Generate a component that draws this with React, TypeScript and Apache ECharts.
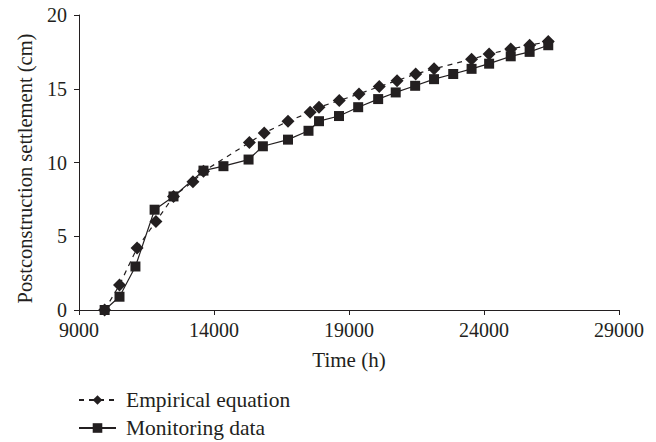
import React, { useEffect, useRef } from "react";
import * as echarts from "echarts";

const xTicks = [9000, 14000, 19000, 24000, 29000];
const yTicks = [0, 5, 10, 15, 20];

const empiricalX = [9950, 10500, 11150, 11850, 12500, 13220, 13610, 15310, 15860, 16740, 17560, 17890, 18640, 19370, 20120, 20780, 21470, 22150, 23540, 24190, 24990, 25690, 26380];
const empiricalY = [0, 1.7, 4.2, 6.0, 7.7, 8.7, 9.4, 11.35, 12.0, 12.8, 13.4, 13.75, 14.2, 14.65, 15.15, 15.55, 16.0, 16.35, 17.0, 17.35, 17.7, 17.95, 18.2];

const monitoringX = [9950, 10500, 11090, 11800, 12500, 13610, 14350, 15280, 15810, 16740, 17500, 17890, 18630, 19340, 20080, 20730, 21450, 22150, 22860, 23540, 24190, 24990, 25690, 26380];
const monitoringY = [0, 0.9, 2.95, 6.8, 7.7, 9.45, 9.75, 10.2, 11.1, 11.55, 12.15, 12.8, 13.15, 13.75, 14.3, 14.75, 15.2, 15.65, 16.0, 16.35, 16.7, 17.2, 17.5, 17.95];

const seriesNames = ["Empirical equation", "Monitoring data"];

const INK = "#231f20";
const FONT = "'Liberation Serif', 'Times New Roman', serif";

export default function App() {
  const ref = useRef<HTMLDivElement>(null);
  useEffect(() => {
    if (!ref.current) return;
    const chart = echarts.init(ref.current, undefined, { renderer: "svg" });
    const zip = (xs: number[], ys: number[]) => xs.map((x, i) => [x, ys[i]]);
    chart.setOption({
      animation: false,
      backgroundColor: "#ffffff",
      textStyle: { fontFamily: FONT, color: INK },
      grid: { left: 79, right: 37, top: 15, bottom: 132, containLabel: false },
      xAxis: {
        type: "value",
        min: xTicks[0],
        max: xTicks[xTicks.length - 1],
        interval: 1000,
        name: "Time (h)",
        nameLocation: "middle",
        nameGap: 39,
        nameTextStyle: { fontFamily: FONT, fontSize: 21, color: INK },
        axisLine: { show: true, onZero: false, lineStyle: { color: INK, width: 1 } },
        axisTick: { show: true, customValues: xTicks, length: 5, inside: false, lineStyle: { color: INK } },
        axisLabel: {
          customValues: xTicks,
          margin: 10,
          fontFamily: FONT,
          fontSize: 20,
          color: INK,
          formatter: (v: number) => String(v),
        },
        splitLine: { show: false },
      },
      yAxis: {
        type: "value",
        min: yTicks[0],
        max: yTicks[yTicks.length - 1],
        interval: 5,
        name: "Postconstruction settlement (cm)",
        nameLocation: "middle",
        nameGap: 44,
        nameTextStyle: { fontFamily: FONT, fontSize: 20.5, color: INK, padding: [0, 12, 0, 0] },
        axisLine: { show: true, lineStyle: { color: INK, width: 1 } },
        axisTick: { show: true, length: 5, inside: false, lineStyle: { color: INK } },
        axisLabel: { margin: 12, fontFamily: FONT, fontSize: 20, color: INK },
        splitLine: { show: false },
      },
      legend: {
        orient: "vertical",
        left: 78,
        top: 389,
        padding: 0,
        itemWidth: 37,
        itemHeight: 12,
        itemGap: 6,
        textStyle: { fontFamily: FONT, fontSize: 21.5, color: INK, lineHeight: 21, padding: [0, 0, 0, 5] },
        data: seriesNames,
      },
      series: [
        {
          name: seriesNames[0],
          type: "line",
          data: zip(empiricalX, empiricalY),
          symbol: "diamond",
          symbolSize: 13,
          itemStyle: { color: INK },
          lineStyle: { color: INK, width: 1.2, type: [5, 5] },
          z: 2,
        },
        {
          name: seriesNames[1],
          type: "line",
          data: zip(monitoringX, monitoringY),
          symbol: "rect",
          symbolSize: 10,
          itemStyle: { color: INK },
          lineStyle: { color: INK, width: 1.2 },
          z: 3,
        },
      ],
    });
    return () => chart.dispose();
  }, []);
  return <div ref={ref} style={{ width: 656, height: 442, marginLeft: -8, marginTop: -8 }} />;
}
